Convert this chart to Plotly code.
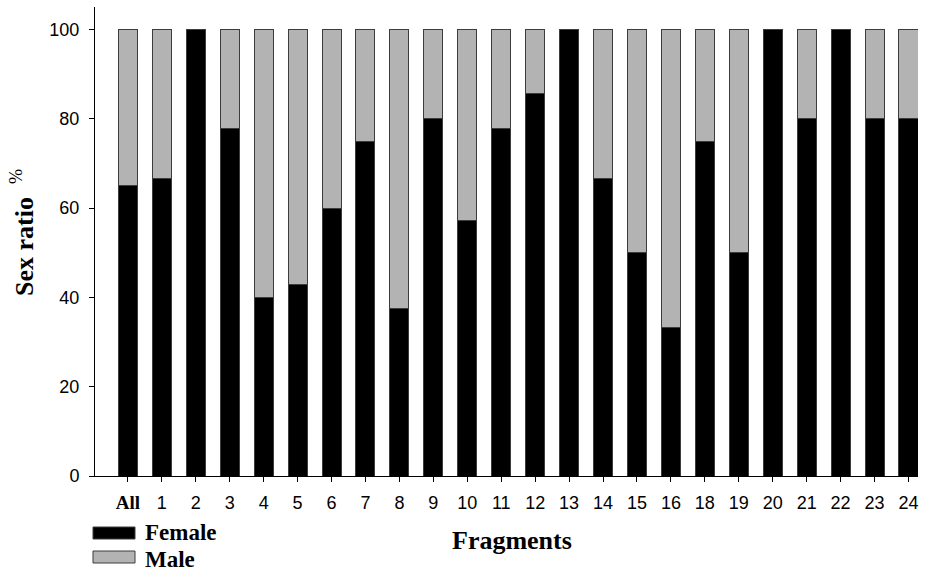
import plotly.graph_objects as go

categories = ["All", "1", "2", "3", "4", "5", "6", "7", "8", "9", "10", "11",
              "12", "13", "14", "15", "16", "18", "19", "20", "21", "22", "23", "24"]
female = [65, 66.7, 100, 77.8, 40, 42.9, 60, 75, 37.5, 80, 57.1, 77.8,
          85.7, 100, 66.7, 50, 33.3, 75, 50, 100, 80, 100, 80, 80]
male = [round(100 - f, 1) for f in female]
tick_text = ["<span style='font-family:Liberation Serif;font-size:19px'><b>All</b></span>"] + categories[1:]
y_ticks = [0, 20, 40, 60, 80, 100]

FEMALE_COLOR = "#000000"
MALE_COLOR = "#b3b3b3"
EDGE = "#3c3c3c"

W, H = 934, 572
ML, MR, MT, MB = 95, 16, 7, 96
plot_w = W - ML - MR
plot_h = H - MT - MB

fig = go.Figure()
fig.add_trace(go.Bar(x=categories, y=female, name="Female",
                     marker=dict(color=FEMALE_COLOR, line=dict(color=EDGE, width=1))))
fig.add_trace(go.Bar(x=categories, y=male, name="Male",
                     marker=dict(color=MALE_COLOR, line=dict(color=EDGE, width=1))))

fig.update_layout(
    barmode="stack",
    bargap=0.44,
    width=W, height=H,
    margin=dict(l=ML, r=MR, t=MT, b=MB),
    plot_bgcolor="white", paper_bgcolor="white",
    showlegend=False,
    font=dict(family="Liberation Sans, Arial", size=18, color="black"),
)
fig.update_xaxes(
    type="category",
    tickvals=categories, ticktext=tick_text,
    range=[-0.97, 23.28],
    showline=True, linecolor="black", linewidth=1,
    ticks="outside", ticklen=5, tickcolor="black",
    showgrid=False, zeroline=False,
    tickfont=dict(size=18),
    ticklabelstandoff=5,
)
fig.update_yaxes(
    range=[0, 105],
    tickvals=y_ticks,
    showline=True, linecolor="black", linewidth=1,
    ticks="outside", ticklen=5, tickcolor="black",
    showgrid=False, zeroline=False,
    tickfont=dict(size=18),
    ticklabelstandoff=6,
)

# axis titles
fig.add_annotation(
    text="<b>Sex ratio</b>  <sup>%</sup>",
    xref="paper", yref="paper", x=(22 - ML) / plot_w, y=(H - MB - 233) / plot_h,
    xanchor="center", yanchor="middle",
    textangle=-90, showarrow=False,
    font=dict(family="Liberation Serif", size=26, color="black"),
)
fig.add_annotation(
    text="<b>Fragments</b>",
    xref="paper", yref="paper", x=(512 - ML) / plot_w, y=(H - MB - 540) / plot_h,
    xanchor="center", yanchor="middle",
    showarrow=False,
    font=dict(family="Liberation Serif", size=26, color="black"),
)

# legend drawn manually (box + label) at bottom left
legend_items = [("Female", FEMALE_COLOR, 533, 532), ("Male", MALE_COLOR, 557, 559)]
for label, color, box_y, text_y in legend_items:
    yb = (H - MB - box_y) / plot_h
    yt = (H - MB - text_y) / plot_h
    fig.add_shape(type="rect", xref="paper", yref="paper",
                  x0=(93 - ML) / plot_w, x1=(135 - ML) / plot_w,
                  y0=yb - 6 / plot_h, y1=yb + 6 / plot_h,
                  fillcolor=color, line=dict(color=EDGE, width=1))
    fig.add_annotation(text="<b>" + label + "</b>", xref="paper", yref="paper",
                       x=(143 - ML) / plot_w, y=yt,
                       xanchor="left", yanchor="middle",
                       showarrow=False,
                       font=dict(family="Liberation Serif", size=23, color="black"))

fig.write_html("out.html", post_script="document.body.style.margin='0';",
               config={"displayModeBar": False})
